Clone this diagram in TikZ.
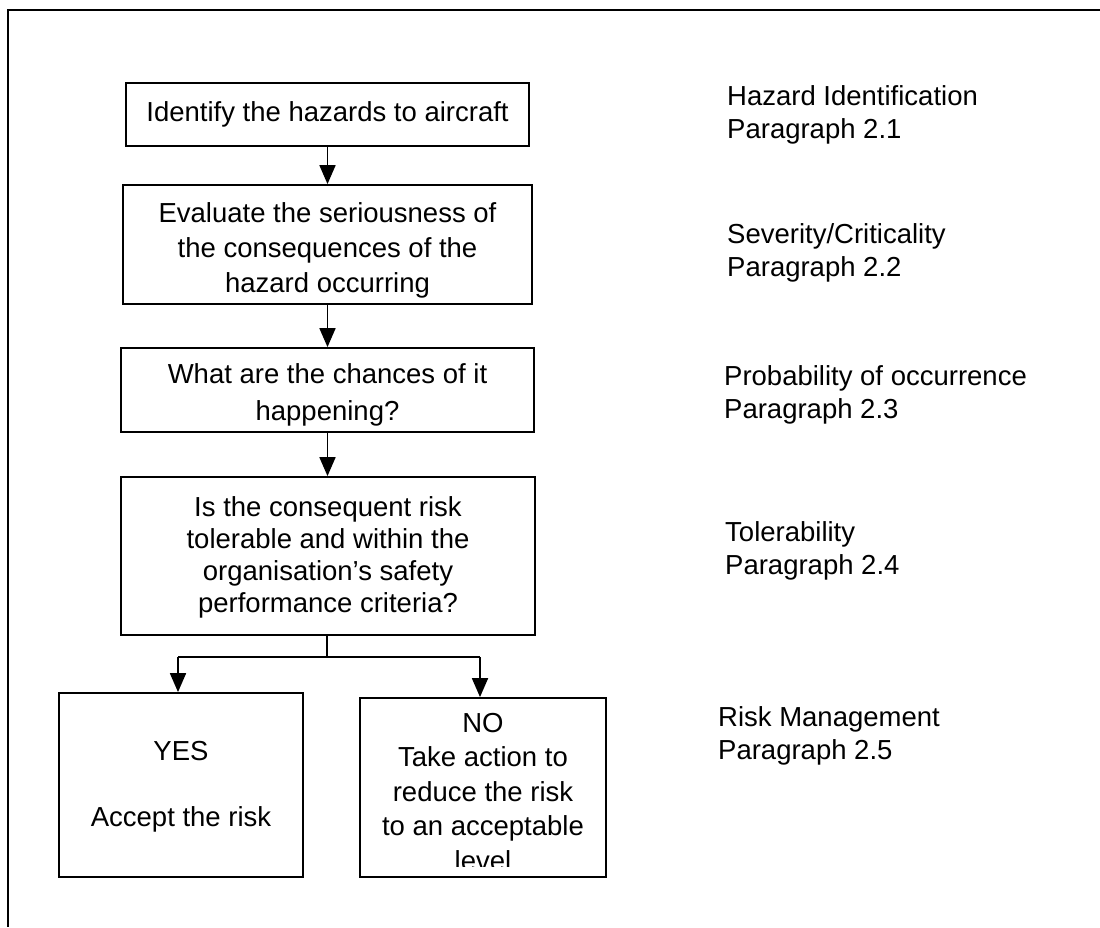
\documentclass[tikz,border=0pt]{standalone}
\usepackage{fontspec}
\setmainfont{Liberation Sans}
\usetikzlibrary{arrows.meta}
\begin{document}
\begin{tikzpicture}[x=1pt,y=-1pt,
  box/.style={draw, line width=1.8pt, inner sep=0pt},
  txt/.style={inner sep=0pt, align=center, anchor=north, font=\fontsize{27.5pt}{35pt}\selectfont},
  lbl/.style={inner sep=0pt, align=left, anchor=north west, font=\fontsize{27.5pt}{33.5pt}\selectfont},
  conn/.style={line width=1.8pt},
  arr/.style={line width=1.8pt, -{Triangle[length=19pt,width=16pt]}}
]
\useasboundingbox (0,0) rectangle (1100,927);
% outer frame (top and left edges)
\draw[line width=1.8pt] (1100,10) -- (8,10) -- (8,927);

% boxes
\node[box, minimum width=403pt, minimum height=63pt] (b1) at (327.5,114.5) {};
\node[box, minimum width=409pt, minimum height=119pt] (b2) at (327.5,244.5) {};
\node[box, minimum width=413pt, minimum height=84pt] (b3) at (327.5,390) {};
\node[box, minimum width=414pt, minimum height=158pt] (b4) at (328,556) {};
\node[box, minimum width=244pt, minimum height=184pt] (yes) at (181,785) {};
\node[box, minimum width=246pt, minimum height=179pt] (no) at (483,787.5) {};

% box texts
\node[txt] (t1) at (327.5,101) {Identify the hazards to aircraft};
\node[txt] (t2) at (327.5,202) {Evaluate the seriousness of\\the consequences of the\\hazard occurring};
\node[txt, font=\fontsize{27.5pt}{37pt}\selectfont] (t3) at (327.5,363) {What are the chances of it\\happening?};
\node[txt, font=\fontsize{27.5pt}{32pt}\selectfont] (t4) at (328,496) {Is the consequent risk\\tolerable and within the\\organisation’s safety\\performance criteria?};
\node[txt, font=\fontsize{27.5pt}{33pt}\selectfont] (tyes) at (181,741) {YES\\[33pt]Accept the risk};
\begin{scope}
  \clip (360,698) rectangle (606,866);
  \node[txt, font=\fontsize{27.5pt}{34.5pt}\selectfont] (tno) at (483,713) {NO\\Take action to\\reduce the risk\\to an acceptable\\level};
\end{scope}

% side labels
\node[lbl] (l1) at (727,85) {Hazard Identification\\Paragraph 2.1};
\node[lbl] (l2) at (727,223) {Severity/Criticality\\Paragraph 2.2};
\node[lbl] (l3) at (724,365) {Probability of occurrence\\Paragraph 2.3};
\node[lbl] (l4) at (725,521) {Tolerability\\Paragraph 2.4};
\node[lbl] (l5) at (718,706) {Risk Management\\Paragraph 2.5};

% connectors
\draw[arr] (b1.south) -- (b2.north);
\draw[arr] (b2.south) -- (b3.north);
\draw[arr] (b3.south) -- (b3.south |- b4.north);
\coordinate (j) at (327,657);
\coordinate (jl) at (178,657);
\coordinate (jr) at (480,657);
\draw[conn] (j |- b4.south) -- (j);
\draw[conn] (jl) -- (jr);
\draw[arr] (jl) -- (jl |- yes.north);
\draw[arr] (jr) -- (jr |- no.north);
\end{tikzpicture}
\end{document}
